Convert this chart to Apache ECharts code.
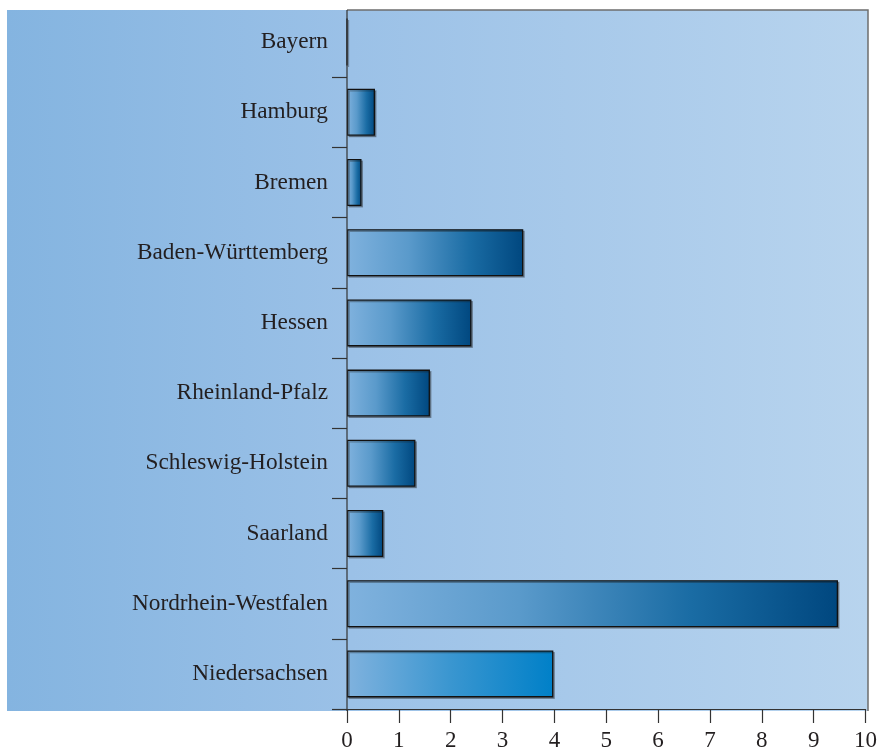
<!DOCTYPE html>
<html><head><meta charset="utf-8">
<script src="https://cdn.jsdelivr.net/npm/echarts@6/dist/echarts.min.js"></script>
<style>html,body{margin:0;padding:0;background:#fff}#c{width:880px;height:752px}</style>
</head><body><div id="c"></div>
<script>
const categories = ['Bayern','Hamburg','Bremen','Baden-Württemberg','Hessen','Rheinland-Pfalz','Schleswig-Holstein','Saarland','Nordrhein-Westfalen','Niedersachsen'];
const values = [0, 0.54, 0.28, 3.4, 2.4, 1.6, 1.32, 0.7, 9.47, 3.98];
const xTicks = [0,1,2,3,4,5,6,7,8,9,10];

const FONT = '"Liberation Serif","Times New Roman",serif';
const darkGrad = {type:'linear',x:0,y:0,x2:1,y2:0,colorStops:[
  {offset:0,color:'#80b2de'},{offset:0.35,color:'#5a9acb'},{offset:0.7,color:'#1a6ca4'},{offset:1,color:'#00477f'}]};
const brightGrad = {type:'linear',x:0,y:0,x2:1,y2:0,colorStops:[
  {offset:0,color:'#80b2de'},{offset:0.5,color:'#3a96d0'},{offset:1,color:'#0080c8'}]};

const chart = echarts.init(document.getElementById('c'));
chart.setOption({
  animation:false,
  graphic:[
    {type:'rect',z:-10,shape:{x:7,y:10,width:861,height:701},
     style:{fill:{type:'linear',x:0,y:0,x2:1,y2:0,colorStops:[
       {offset:0,color:'#84b4e0'},{offset:0.4,color:'#9bc1e7'},{offset:1,color:'#b8d4ee'}]}}},
    {type:'polyline',z:10,shape:{points:[[347,10],[868,10],[868,711]]},style:{stroke:'#6e6e6e',lineWidth:1.5,fill:null}},
    {type:'line',z:10,shape:{x1:347,y1:10,x2:347,y2:711},style:{stroke:'#333',lineWidth:1.2}}
  ],
  grid:{left:347,right:12,top:7,bottom:41,containLabel:false},
  xAxis:{type:'value',min:xTicks[0],max:xTicks[xTicks.length-1],interval:1,
    axisLine:{show:true,lineStyle:{color:'#333',width:1.2}},
    axisTick:{show:true,length:14,lineStyle:{color:'#333',width:1.2}},
    splitLine:{show:false},
    axisLabel:{fontFamily:FONT,fontSize:23,color:'#231f20',margin:20}},
  yAxis:{type:'category',data:categories,inverse:true,
    axisLine:{show:false},
    axisTick:{show:true,length:15,interval:function(i){return i!==0;},lineStyle:{color:'#333',width:1.2}},
    axisLabel:{fontFamily:FONT,fontSize:23.3,color:'#231f20',margin:19,interval:0}},
  series:[{type:'bar',barWidth:'67%',
    data:values.map((v,i)=>({value:v,itemStyle:{color: categories[i]==='Niedersachsen'?brightGrad:darkGrad}})),
    itemStyle:{borderColor:'#111',borderWidth:1.3,shadowColor:'rgba(30,30,30,0.35)',shadowOffsetX:1.5,shadowOffsetY:1.5,shadowBlur:0}}]
});
</script></body></html>
